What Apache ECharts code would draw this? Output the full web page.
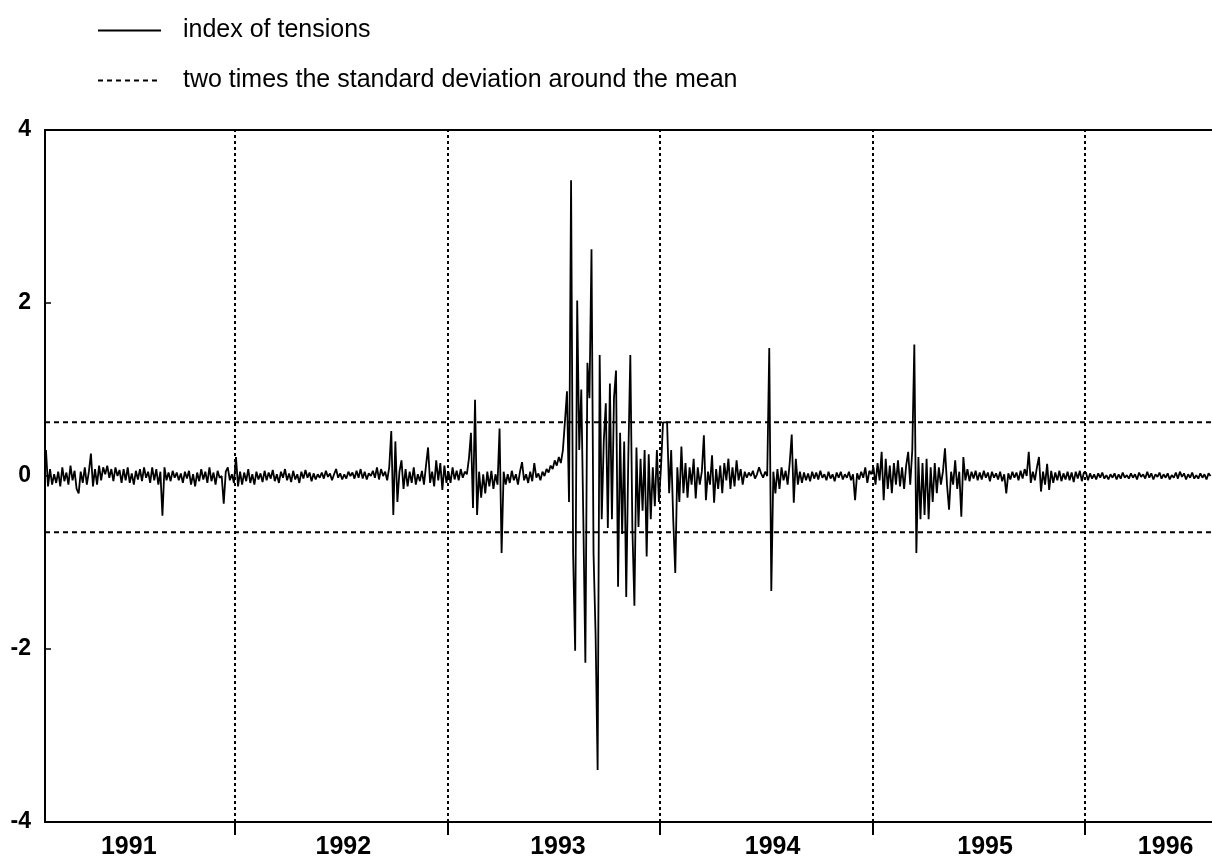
<!DOCTYPE html>
<html><head><meta charset="utf-8">
<script src="https://cdn.jsdelivr.net/npm/echarts@6/dist/echarts.min.js"></script>
<style>html,body{margin:0;padding:0;background:#fff}#c{width:1212px;height:861px}</style>
</head><body><div id="c"></div>
<script>
const v1991 = [
0.30,-0.12,0.08,-0.10,0.02,-0.08,0.05,-0.12,0.10,-0.06,
0.04,-0.10,0.12,-0.05,0.06,-0.15,-0.20,0.05,-0.08,0.10,
-0.10,0.05,0.26,-0.12,0.08,-0.10,0.12,-0.05,0.10,0.02,
0.12,-0.02,0.08,-0.06,0.10,0.00,0.07,-0.08,0.08,-0.05,
0.10,-0.08,0.03,-0.10,0.06,-0.04,0.08,-0.06,0.10,-0.02,
0.05,-0.08,0.10,-0.05,0.08,-0.10,0.05,-0.46,0.10,-0.05,
0.04,-0.06,0.06,-0.02,0.04,-0.05,0.03,-0.08,0.05,-0.03,
0.06,-0.10,0.02,-0.12,0.04,-0.06,0.08,-0.04,0.05,-0.08,
0.10,-0.06,0.04,-0.10,0.06,-0.02,0.00,-0.32,0.05,0.10,
-0.05,0.02,-0.08];
const v1992 = [
0.22,-0.12,0.05,-0.10,0.04,-0.06,0.08,-0.08,0.02,-0.10,
0.05,-0.04,0.03,-0.07,0.06,-0.05,0.04,-0.03,0.07,-0.06,
0.02,-0.08,0.05,-0.02,0.08,-0.05,0.03,-0.07,0.06,-0.04,
0.02,-0.08,0.05,-0.03,0.07,-0.02,0.04,-0.06,0.03,-0.04,
0.02,-0.02,0.04,-0.03,0.06,-0.01,0.03,-0.05,0.02,0.08,
-0.02,0.03,-0.04,0.02,-0.03,0.05,0.00,0.04,-0.03,0.06,
-0.02,0.08,-0.03,0.05,-0.04,0.03,0.00,0.06,-0.02,0.10,
-0.04,0.08,0.00,0.05,-0.05,0.10,0.52,-0.45,0.40,-0.30,
0.05,0.18,-0.15,0.08,-0.12,0.05,-0.08,0.10,-0.10,0.02,
-0.06,0.06,-0.10,0.12,0.33,-0.08,0.05,-0.12,0.18,-0.05,
0.15,-0.16,0.12,-0.08];
const v1993 = [
0.05,-0.08,0.10,-0.04,0.06,-0.05,0.08,-0.02,0.05,0.02,
0.20,0.50,-0.37,0.88,-0.45,0.05,-0.25,0.02,-0.20,0.05,
-0.12,0.06,-0.15,0.02,-0.10,0.55,-0.89,0.05,-0.10,0.02,
-0.08,0.06,-0.05,0.02,-0.10,0.05,0.16,-0.05,0.02,-0.08,
0.05,-0.06,0.15,-0.02,0.03,-0.05,0.05,0.00,0.08,0.04,
0.12,0.08,0.18,0.12,0.22,0.15,0.30,0.63,0.98,-0.30,
3.42,-0.90,-2.02,2.03,0.30,1.00,-0.50,-2.16,1.31,0.90,
2.62,-0.90,-1.83,-3.40,1.40,-0.50,0.40,0.84,-0.60,1.07,
-0.50,0.90,1.22,-1.28,0.50,-0.67,0.40,-1.40,0.20,1.40,
-0.60,-1.50,0.33,-0.59,0.20,-0.40,0.30,-0.93,0.25,-0.50,
0.10,-0.35,0.30,-0.30];
const v1994 = [
0.10,0.62,0.62,0.62,-0.20,0.30,-0.50,-1.12,0.10,-0.30,
0.34,-0.20,0.15,-0.25,0.10,-0.10,0.20,-0.26,0.10,-0.10,
0.05,0.47,-0.28,0.05,-0.10,0.24,-0.31,0.08,-0.15,0.12,
-0.20,0.15,-0.05,0.20,-0.15,0.10,-0.12,0.18,-0.05,0.08,
-0.10,0.05,-0.02,0.04,0.00,0.06,-0.03,0.02,0.10,0.03,
-0.02,0.05,0.00,1.48,-1.33,0.05,-0.20,0.08,-0.15,0.10,
-0.05,0.06,-0.10,0.15,0.48,-0.31,0.20,-0.10,0.05,-0.08,
0.04,-0.05,0.03,-0.06,0.05,-0.03,0.04,-0.04,0.06,-0.02,
0.02,-0.05,0.05,-0.03,0.02,-0.06,0.04,-0.02,0.05,-0.04,
0.02,-0.02,0.05,-0.05,0.02,-0.28,0.03,-0.04,0.05,-0.02,
0.10,-0.08,0.06,0.02];
const v1995 = [
0.10,-0.10,0.15,-0.05,0.28,-0.28,0.20,-0.15,0.12,-0.20,
0.15,-0.10,0.18,-0.12,0.10,-0.15,0.12,0.28,-0.10,0.30,
1.52,-0.89,0.22,-0.50,0.15,-0.45,0.20,-0.50,0.10,-0.30,
0.15,-0.20,0.10,-0.10,0.05,0.32,-0.10,-0.39,0.05,-0.10,
0.18,-0.15,0.05,-0.47,0.22,-0.05,0.08,-0.06,0.05,-0.03,
0.06,-0.05,0.04,-0.04,0.06,-0.02,0.04,-0.06,0.05,-0.02,
0.03,-0.04,0.05,-0.06,0.02,-0.20,0.03,-0.04,0.05,-0.02,
0.04,-0.05,0.06,-0.03,0.08,0.00,0.28,-0.08,0.05,-0.05,
0.10,0.22,-0.18,0.05,-0.10,0.14,-0.16,0.06,-0.08,0.04,
-0.05,0.06,-0.06,0.03,-0.04,0.05,-0.05,0.04,-0.07,0.05,
-0.03,0.06,-0.06,0.04];
const v1996 = [
0.04,-0.05,0.03,-0.03,0.02,-0.04,0.03,-0.02,0.04,-0.03,
0.01,-0.04,0.02,-0.02,0.03,-0.04,0.02,-0.03,0.04,-0.02,
0.01,-0.03,0.03,-0.02,0.02,-0.04,0.04,-0.01,0.02,-0.03,
0.05,-0.02,0.03,-0.04,0.02,-0.01,0.04,-0.03,0.02,-0.02,
0.03,-0.04,0.01,-0.02,0.04,-0.03,0.05,-0.01,0.03,-0.04,
0.02,-0.02,0.04,-0.03,0.01,-0.03,0.03,-0.02,0.02,-0.04,
0.03,0.00];

const yearBoundaries = [1992, 1993, 1994, 1995, 1996];
const yearLabelPos = [1991.50, 1992.51, 1993.52, 1994.53, 1995.53, 1996.38];
const bandUpper = 0.62;
const bandLower = -0.65;
const X_MIN = 1991.106, X_MAX = 1996.598;
const OBS_PER_YEAR = 104;

function buildSeries() {
  const pts = [];
  v1991.forEach((v, k) => pts.push([1992 - (v1991.length - k - 0.5) / OBS_PER_YEAR, v]));
  [[1992, v1992], [1993, v1993], [1994, v1994], [1995, v1995], [1996, v1996]].forEach(([yr, arr]) => {
    arr.forEach((v, k) => pts.push([yr + (k + 0.5) / OBS_PER_YEAR, v]));
  });
  return pts;
}

const FONT = 'Liberation Sans, Arial, sans-serif';
const BAND_NAME = 'two times the standard deviation around the mean';
const chart = echarts.init(document.getElementById('c'), null, {renderer: 'canvas'});
chart.setOption({
  animation: false,
  backgroundColor: '#fff',
  grid: {left: 45, right: 0, top: 130, bottom: 39, show: false},
  legend: {
    orient: 'vertical', left: 92, top: 13, itemWidth: 63, itemHeight: 22, itemGap: 25,
    data: ['index of tensions', BAND_NAME],
    itemStyle: {opacity: 0},
    textStyle: {fontSize: 25, color: '#000', fontFamily: FONT, padding: [0, 0, 0, 17]},
    selectedMode: false
  },
  xAxis: [{
    type: 'value', min: X_MIN, max: X_MAX, position: 'bottom',
    axisLine: {show: true, onZero: false, lineStyle: {color: '#000', width: 2}},
    axisTick: {show: true, customValues: yearBoundaries, length: 13, inside: false, lineStyle: {color: '#000', width: 2}},
    axisLabel: {customValues: yearLabelPos, formatter: v => String(Math.floor(v)), fontSize: 25, fontWeight: 'bold', color: '#000', margin: 13, fontFamily: FONT},
    splitLine: {show: false}
  }, {
    type: 'value', min: X_MIN, max: X_MAX, position: 'top',
    axisLine: {show: true, onZero: false, lineStyle: {color: '#000', width: 2}},
    axisTick: {show: false}, axisLabel: {show: false}, splitLine: {show: false}
  }],
  yAxis: {
    type: 'value', min: -4, max: 4, interval: 2,
    axisLine: {show: true, onZero: false, lineStyle: {color: '#000', width: 2}},
    axisTick: {show: true, inside: true, length: 6, lineStyle: {color: '#000', width: 1.5}},
    axisLabel: {fontSize: 23, fontWeight: 'bold', color: '#000', margin: 14, fontFamily: FONT},
    splitLine: {show: false}
  },
  series: [
    {
      name: 'index of tensions', type: 'line', data: buildSeries(),
      symbol: 'none', showSymbol: false, smooth: false,
      lineStyle: {color: '#000', width: 1.8}, itemStyle: {color: '#000'},
      z: 3,
      markLine: {
        silent: true, symbol: ['none', 'none'], label: {show: false},
        lineStyle: {color: '#000', type: [3, 3], width: 2},
        data: yearBoundaries.map(x => ({xAxis: x}))
      }
    },
    {
      name: BAND_NAME, type: 'line', data: [[X_MIN, bandUpper], [X_MAX, bandUpper]],
      symbol: 'none', lineStyle: {color: '#000', width: 2, type: [5, 4]}, itemStyle: {color: '#000'}, z: 2
    },
    {
      name: BAND_NAME, type: 'line', data: [[X_MIN, bandLower], [X_MAX, bandLower]],
      symbol: 'none', lineStyle: {color: '#000', width: 2, type: [5, 4]}, itemStyle: {color: '#000'}, z: 2
    }
  ]
});
</script>
</body></html>
